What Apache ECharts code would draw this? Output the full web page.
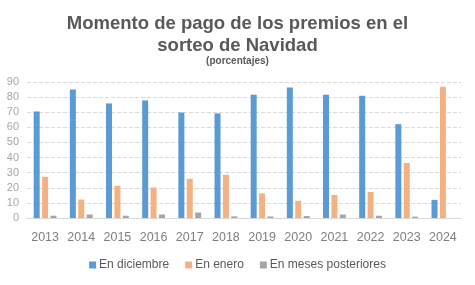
<!DOCTYPE html>
<html>
<head>
<meta charset="utf-8">
<script src="https://cdn.jsdelivr.net/npm/echarts@6/dist/echarts.min.js"></script>
<style>
html,body{margin:0;padding:0;background:#fff;}
#chart{width:475px;height:285px;}
</style>
</head>
<body>
<div id="chart"></div>
<script>
// datos
var years = ['2013','2014','2015','2016','2017','2018','2019','2020','2021','2022','2023','2024'];
var enDiciembre = [70.5, 85, 75.8, 77.8, 69.8, 69.2, 81.6, 86.3, 81.6, 80.9, 62.1, 12];
var enEnero = [27.3, 12.2, 21.3, 20.2, 25.9, 28.6, 16.3, 11.4, 15.2, 17.2, 36.4, 86.9];
var enMeses = [1.5, 2.3, 1.5, 2.3, 3.6, 1.1, 1, 1.3, 2.3, 1.5, 0.9, 0];
var yTicks = {min: 0, max: 90, interval: 10};

var chart = echarts.init(document.getElementById('chart'));
chart.setOption({
  animation: false,
  title: [
    {
      text: 'Momento de pago de los premios en el\nsorteo de Navidad',
      left: 'center', top: 8,
      textStyle: {fontFamily: 'Liberation Sans', fontSize: 18.5, fontWeight: 'bold', color: '#595959', lineHeight: 22}
    },
    {
      text: '(porcentajes)',
      left: 'center', top: 51,
      textStyle: {fontFamily: 'Liberation Sans', fontSize: 10, fontWeight: 'bold', color: '#595959'}
    }
  ],
  grid: {left: 27, right: 14, top: 82, bottom: 67},
  legend: {
    bottom: 9, left: 'center',
    itemWidth: 7, itemHeight: 7, itemGap: 16,
    icon: 'rect',
    textStyle: {fontFamily: 'Liberation Sans', fontSize: 12, color: '#595959', padding: [0,0,0,-2]},
    data: ['En diciembre','En enero','En meses posteriores']
  },
  xAxis: {
    type: 'category',
    data: years,
    axisLine: {lineStyle: {color: '#d9d9d9'}},
    axisTick: {show: false},
    axisLabel: {interval: 0, fontFamily: 'Liberation Sans', fontSize: 12.5, color: '#7f7f7f', margin: 13}
  },
  yAxis: {
    type: 'value',
    min: yTicks.min, max: yTicks.max, interval: yTicks.interval,
    axisLine: {show: false},
    axisTick: {show: false},
    axisLabel: {fontFamily: 'Liberation Sans', fontSize: 11, color: '#a6a6a6', margin: 8},
    splitLine: {lineStyle: {color: '#d9d9d9', type: 'dashed'}}
  },
  series: [
    {name: 'En diciembre', type: 'bar', data: enDiciembre, barWidth: 6, barGap: '40%',
     itemStyle: {color: '#5b9bd5'}},
    {name: 'En enero', type: 'bar', data: enEnero, barWidth: 6, barGap: '40%',
     itemStyle: {color: '#f4b183'}},
    {name: 'En meses posteriores', type: 'bar', data: enMeses, barWidth: 6, barGap: '40%',
     itemStyle: {color: '#a5a5a5'}}
  ]
});
</script>
</body>
</html>
